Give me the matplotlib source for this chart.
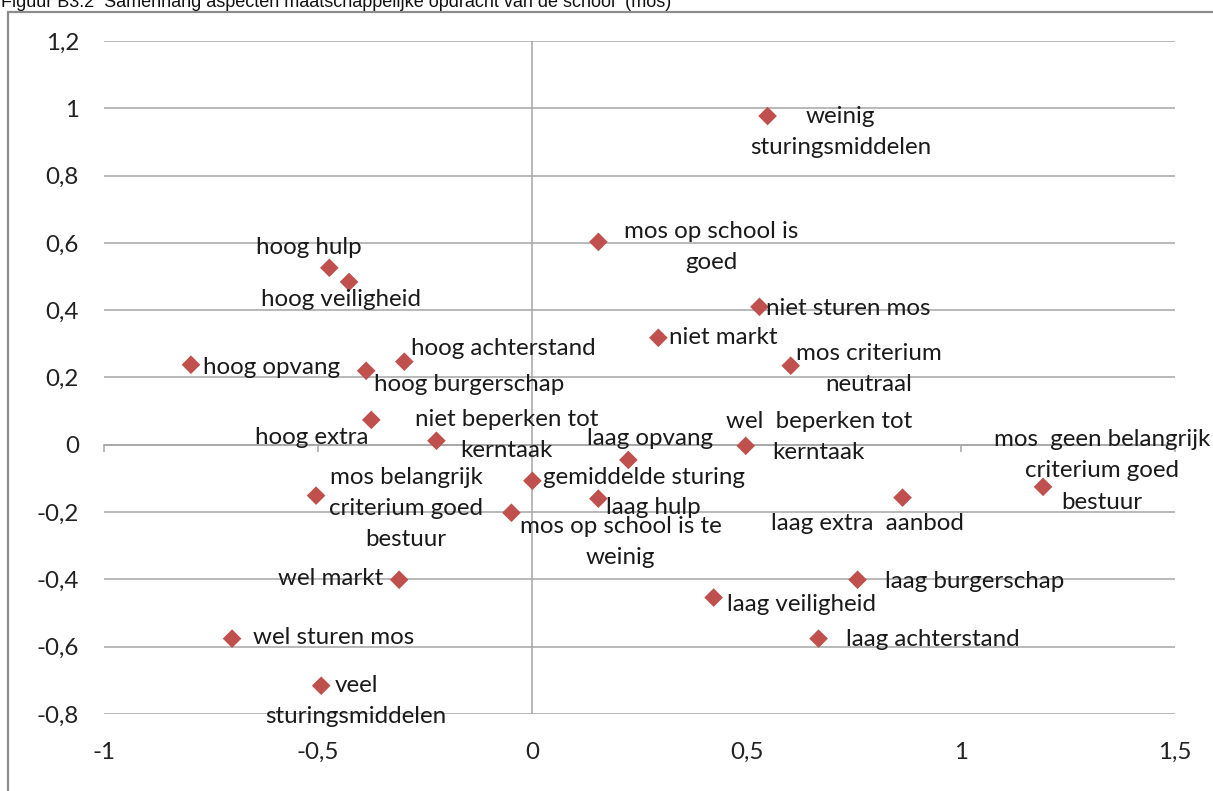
import matplotlib
matplotlib.use("Agg")
import matplotlib.pyplot as plt
from matplotlib.patches import Rectangle

# coördinaten van de kenmerken (dim 1, dim 2)
labels = [
    "weinig\nsturingsmiddelen", "mos op school is\ngoed", "hoog hulp", "hoog veiligheid",
    "niet sturen mos", "niet markt", "mos criterium\nneutraal", "hoog opvang",
    "hoog burgerschap", "hoog achterstand", "hoog extra", "niet beperken tot\nkerntaak",
    "wel  beperken tot\nkerntaak", "laag opvang", "gemiddelde sturing", "laag hulp",
    "mos op school is te\nweinig", "laag extra  aanbod",
    "mos  geen belangrijk\ncriterium goed\nbestuur",
    "mos belangrijk\ncriterium goed\nbestuur", "wel markt", "laag burgerschap",
    "laag veiligheid", "laag achterstand", "wel sturen mos", "veel\nsturingsmiddelen",
]
dim1 = [0.549, 0.154, -0.474, -0.428, 0.530, 0.294, 0.603, -0.797,
        -0.388, -0.299, -0.376, -0.224, 0.498, 0.224, 0.0, 0.154,
        -0.049, 0.864, 1.192, -0.505, -0.311, 0.759, 0.423, 0.668, -0.701, -0.493]
dim2 = [0.977, 0.603, 0.526, 0.484, 0.410, 0.318, 0.235, 0.238,
        0.220, 0.247, 0.074, 0.012, -0.003, -0.045, -0.107, -0.160,
        -0.202, -0.157, -0.125, -0.151, -0.401, -0.401, -0.454, -0.576, -0.576, -0.716]

x_ticks = [-1, -0.5, 0, 0.5, 1, 1.5]
x_ticklabels = ["-1", "-0,5", "0", "0,5", "1", "1,5"]
y_ticks = [-0.8, -0.6, -0.4, -0.2, 0, 0.2, 0.4, 0.6, 0.8, 1, 1.2]
y_ticklabels = ["-0,8", "-0,6", "-0,4", "-0,2", "0", "0,2", "0,4", "0,6", "0,8", "1", "1,2"]

# plaatsing van de datalabels: (uitlijning, dx, dy) in pixels, dy naar beneden
label_pos = [
    ("center", 73, 16), ("center", 113, 5), ("center", -21, -20), ("center", -8, 18),
    ("left", 7, 2), ("left", 11, 0), ("center", 78, 3), ("left", 12, 3),
    ("center", 103, 14), ("center", 99, -13), ("center", -60, 18), ("center", 70, -6),
    ("center", 73, -9), ("center", 22, -21), ("left", 11, -3), ("center", 55, 9),
    ("center", 109, 29), ("center", -35, 26), ("center", 59, -16),
    ("center", 90, 13), ("right", -16, -1), ("left", 27, 2),
    ("left", 13, 7), ("left", 27, 1), ("left", 21, -1), ("center", 35, 15),
]

plt.rcParams["font.family"] = ["Lato", "DejaVu Sans"]
W, H = 1213, 791
fig = plt.figure(figsize=(W / 100, H / 100), dpi=100)
ax = fig.add_axes([104 / W, 1 - 714 / H, (1175 - 104) / W, (714 - 41) / H])

grid_col = "#a6a6a6"
txt_col = "#1a1a1a"
fs = 17.4

ax.set_xlim(-1, 1.5)
ax.set_ylim(-0.8, 1.2)
for s in ["top", "right", "left"]:
    ax.spines[s].set_visible(False)
ax.spines["bottom"].set_position(("data", 0))
ax.spines["bottom"].set_color(grid_col)
ax.spines["bottom"].set_linewidth(1.1)
ax.axvline(0, color=grid_col, lw=1.1, zorder=1)

ax.set_xticks(x_ticks)
ax.tick_params(axis="x", direction="out", length=5, color=grid_col, width=1.1, labelbottom=False)
ax.set_yticks(y_ticks)
ax.set_yticklabels(y_ticklabels)
ax.tick_params(axis="y", length=0, pad=18, labelsize=fs, labelcolor="#222222")
ax.yaxis.grid(True, color=grid_col, lw=1.1)
ax.set_axisbelow(True)

sec = ax.secondary_xaxis("bottom")
sec.set_xticks(x_ticks)
sec.set_xticklabels(x_ticklabels)
sec.spines["bottom"].set_visible(False)
sec.tick_params(length=0, pad=20, labelsize=fs, labelcolor="#222222")

ax.scatter(dim1, dim2, marker="D", s=90, color="#c0504d", edgecolors="none", zorder=3)

for x, y, lab, (ha, dx, dy) in zip(dim1, dim2, labels, label_pos):
    ax.annotate(lab, (x, y), xytext=(dx, -dy), textcoords="offset pixels",
                ha=ha, va="center", multialignment="center", fontsize=fs,
                color=txt_col, linespacing=1.6, zorder=4, annotation_clip=False)

# figuurkader en (afgesneden) titel
fig.patches.append(Rectangle((8 / W, -0.1), 1.2, 1 - 12 / H + 0.1, transform=fig.transFigure,
                             fill=False, edgecolor="#8c8c8c", lw=1.6))
fig.text(1 / W, 1 - 7 / H, "Figuur B3.2  Samenhang aspecten maatschappelijke opdracht van de school  (mos)",
         family=["Liberation Sans"], fontsize=13, va="baseline", ha="left", color="#111111")

fig.savefig("out.png", dpi=100)
